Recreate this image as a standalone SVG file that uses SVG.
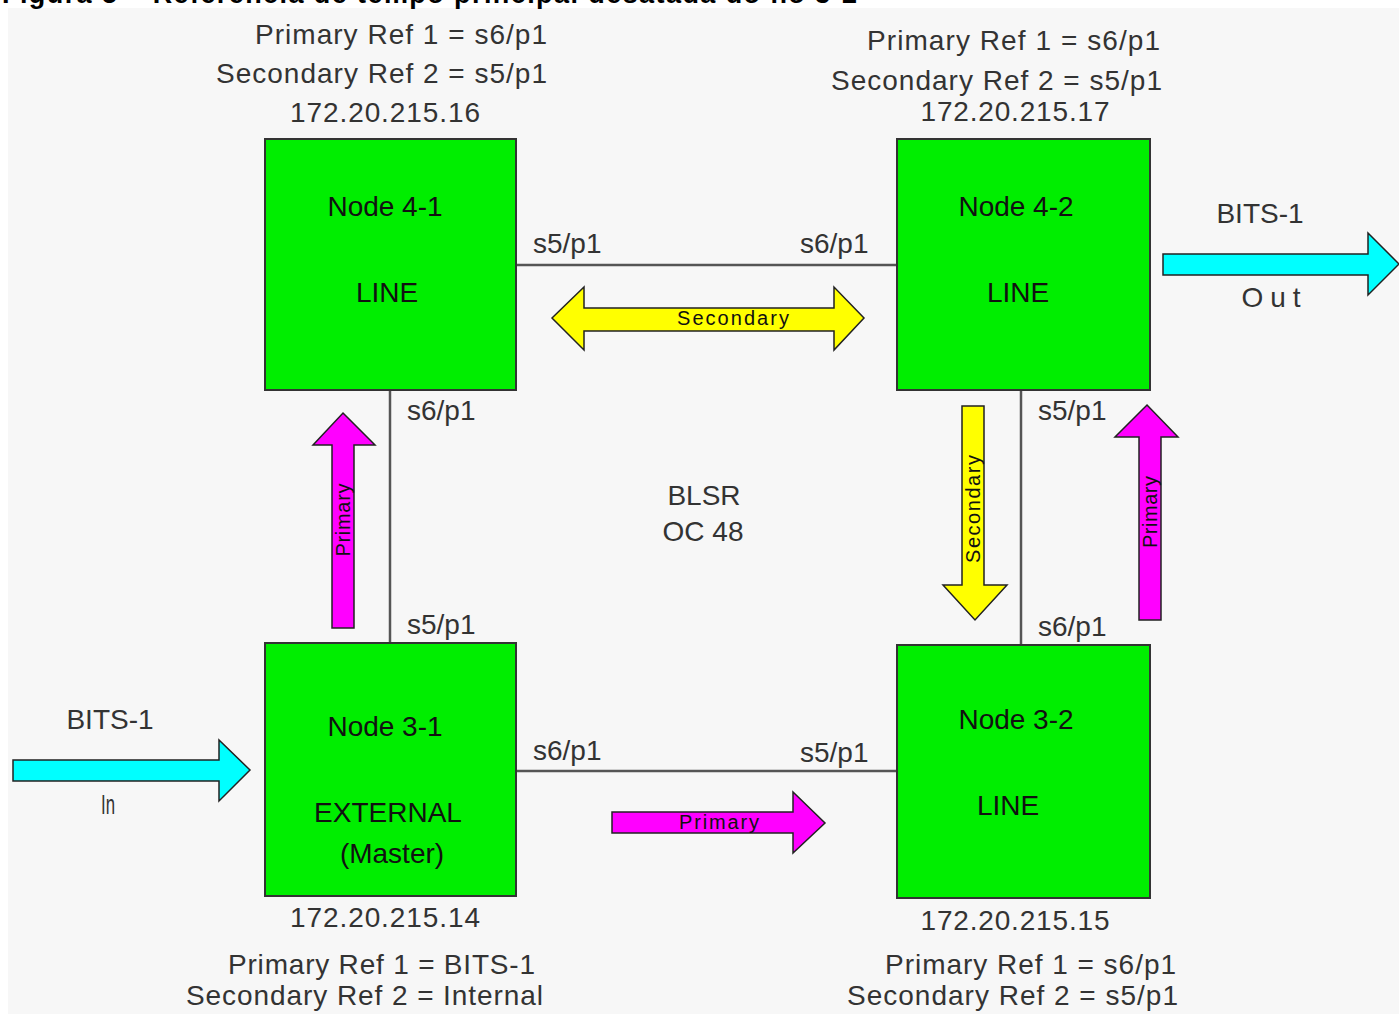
<svg xmlns="http://www.w3.org/2000/svg" width="1399" height="1014" viewBox="0 0 1399 1014">
<style>
.cap{font-family:"Liberation Sans",Arial,sans-serif;font-weight:bold;font-size:27px;fill:#000}
.lbl{font-family:"Liberation Sans",Arial,sans-serif;font-size:28px;fill:#333}
.ntx{font-family:"Liberation Sans",Arial,sans-serif;font-size:28px;fill:#111;text-anchor:middle}
.atx{font-family:"Liberation Sans",Arial,sans-serif;font-size:20px;fill:#111;text-anchor:middle}
.box{fill:#00ee00;stroke:#333;stroke-width:2}
.conn{stroke:#555;stroke-width:2.5;fill:none}
.cyan{fill:#00ffff;stroke:#222;stroke-width:1.5;stroke-linejoin:miter}
.yel{fill:#ffff00;stroke:#222;stroke-width:1.5}
.mag{fill:#ff00ff;stroke:#222;stroke-width:1.5}
</style>
<rect x="0" y="0" width="1399" height="1014" fill="#ffffff"/>
<rect x="8" y="8" width="1391" height="1006" fill="#f7f7f7"/>
<text class="cap" x="2" y="3" textLength="855">Figura 5 – Referência de tempo principal desatada do nó 3-2</text>

<g id="connectors">
<line class="conn" x1="516" y1="265" x2="897" y2="265"/>
<line class="conn" x1="390" y1="390" x2="390" y2="643"/>
<line class="conn" x1="1021" y1="390" x2="1021" y2="645"/>
<line class="conn" x1="516" y1="771" x2="897" y2="771"/>
</g>

<g id="node-4-1">
<rect class="box" x="265" y="139" width="251" height="251"/>
<text class="ntx" x="385" y="216">Node 4-1</text>
<text class="ntx" x="387" y="302">LINE</text>
</g>
<g id="node-4-2">
<rect class="box" x="897" y="139" width="253" height="251"/>
<text class="ntx" x="1016" y="216">Node 4-2</text>
<text class="ntx" x="1018" y="302">LINE</text>
</g>
<g id="node-3-1">
<rect class="box" x="265" y="643" width="251" height="253"/>
<text class="ntx" x="385" y="736">Node 3-1</text>
<text class="ntx" x="388" y="822">EXTERNAL</text>
<text class="ntx" x="392" y="863">(Master)</text>
</g>
<g id="node-3-2">
<rect class="box" x="897" y="645" width="253" height="253"/>
<text class="ntx" x="1016" y="729">Node 3-2</text>
<text class="ntx" x="1008" y="815">LINE</text>
</g>

<g id="ports">
<text class="lbl" x="533" y="253">s5/p1</text>
<text class="lbl" x="800" y="253">s6/p1</text>
<text class="lbl" x="407" y="420">s6/p1</text>
<text class="lbl" x="1038" y="420">s5/p1</text>
<text class="lbl" x="407" y="634">s5/p1</text>
<text class="lbl" x="1038" y="636">s6/p1</text>
<text class="lbl" x="533" y="760">s6/p1</text>
<text class="lbl" x="800" y="762">s5/p1</text>
</g>

<g id="refs">
<text class="lbl" x="547" y="44" text-anchor="end" textLength="292">Primary Ref 1 = s6/p1</text>
<text class="lbl" x="547" y="83" text-anchor="end" textLength="331">Secondary Ref 2 = s5/p1</text>
<text class="lbl" x="385" y="122" text-anchor="middle" textLength="190">172.20.215.16</text>
<text class="lbl" x="1160" y="50" text-anchor="end" textLength="293">Primary Ref 1 = s6/p1</text>
<text class="lbl" x="1162" y="90" text-anchor="end" textLength="331">Secondary Ref 2 = s5/p1</text>
<text class="lbl" x="1015" y="121" text-anchor="middle" textLength="189">172.20.215.17</text>
<text class="lbl" x="385" y="927" text-anchor="middle" textLength="190">172.20.215.14</text>
<text class="lbl" x="535" y="974" text-anchor="end" textLength="307">Primary Ref 1 = BITS-1</text>
<text class="lbl" x="543" y="1005" text-anchor="end" textLength="357">Secondary Ref 2 = Internal</text>
<text class="lbl" x="1015" y="930" text-anchor="middle" textLength="189">172.20.215.15</text>
<text class="lbl" x="1176" y="974" text-anchor="end" textLength="291">Primary Ref 1 = s6/p1</text>
<text class="lbl" x="1178" y="1005" text-anchor="end" textLength="331">Secondary Ref 2 = s5/p1</text>
<text class="lbl" x="704" y="505" text-anchor="middle">BLSR</text>
<text class="lbl" x="703" y="541" text-anchor="middle">OC 48</text>
</g>

<g id="bits-out">
<polygon class="cyan" points="1163,254 1368,254 1368,233 1399,264 1368,295 1368,275 1163,275"/>
<text class="lbl" x="1260" y="223" text-anchor="middle">BITS-1</text>
<text class="lbl" x="1271" y="307" text-anchor="middle" textLength="59">Out</text>
</g>
<g id="bits-in">
<polygon class="cyan" points="13,760 219,760 219,740 250,770 219,801 219,781 13,781"/>
<text class="lbl" x="110" y="729" text-anchor="middle">BITS-1</text>
<text class="lbl" x="108" y="814" text-anchor="middle" textLength="14" lengthAdjust="spacingAndGlyphs">In</text>
</g>

<g id="secondary-horizontal">
<polygon class="yel" points="552,318 584,287 584,308 834,308 834,287 864,318 834,350 834,331 584,331 584,350"/>
<text class="atx" x="733" y="325" textLength="112">Secondary</text>
</g>
<g id="primary-left">
<polygon class="mag" points="343,413 375,445 354,445 354,628 332,628 332,445 313,445"/>
<text class="atx" transform="translate(350,520) rotate(-90)" textLength="73">Primary</text>
</g>
<g id="secondary-vertical">
<polygon class="yel" points="962,406 984,406 984,585 1007,585 975,620 943,585 962,585"/>
<text class="atx" transform="translate(980,509) rotate(-90)" textLength="108">Secondary</text>
</g>
<g id="primary-right">
<polygon class="mag" points="1147,405 1178,437 1161,437 1161,620 1139,620 1139,437 1115,437"/>
<text class="atx" transform="translate(1157,512) rotate(-90)" textLength="72">Primary</text>
</g>
<g id="primary-bottom">
<polygon class="mag" points="612,812 793,812 793,792 825,823 793,853 793,833 612,833"/>
<text class="atx" x="719" y="829" textLength="80">Primary</text>
</g>
</svg>
